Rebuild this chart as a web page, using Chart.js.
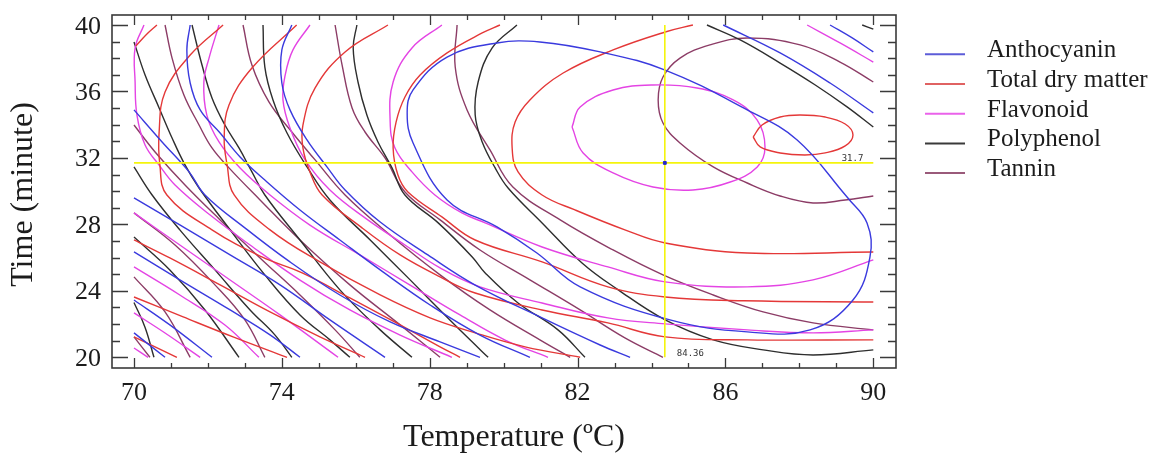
<!DOCTYPE html>
<html><head><meta charset="utf-8">
<script src="https://cdn.jsdelivr.net/npm/chart.js@4.4.1/dist/chart.umd.min.js"></script>
<style>html,body{margin:0;padding:0;background:#fff;overflow:hidden}canvas{display:block}</style>
</head><body>
<canvas id="c" width="1160" height="453"></canvas>
<script>
// ---- labels / ticks ----
const seriesNames = ['Anthocyanin', 'Total dry matter', 'Flavonoid', 'Polyphenol', 'Tannin'];
const seriesColors = ['#3a3ade', '#e43838', '#e444e4', '#2e2e2e', '#8c3c66'];
const legendColors = ['#5c5cd8', '#e06262', '#ea62ea', '#3a3a3a', '#9a5a7a'];
const xTicks = [70, 74, 78, 82, 86, 90];
const yTicks = [20, 24, 28, 32, 36, 40];
const xTitle = 'Temperature (ºC)';
const yTitle = 'Time (minute)';
const optimumX = 84.36, optimumY = 31.7;
const optimumXLabel = '84.36', optimumYLabel = '31.7';

// ---- contour lines: [temperature, time] ----
const anthocyanin = [
  [[89.29,29.65],[87.94,33.08],[86.59,34.89],[84.37,37.29],[82.61,38.38],[80.98,38.98],[79.82,38.92],[78.47,38.07],[77.55,36.09],[77.39,34.71],[77.55,32.9],[78.47,29.47],[79.82,27.85],[80.9,26.28],[82.07,24.24],[84.5,22.25],[86.59,21.53],[88.29,21.65],[89.45,23.45],[89.91,26.04],[89.83,28.09],[89.29,29.65]],
  [[85.94,40],[87.48,38.32],[88.83,36.51],[90,34.71]],
  [[88.83,40],[89.43,39.22],[90,38.38]],
  [[74.27,40],[74,38.5],[74,36.51],[74.22,34.89],[74.68,33.08],[75.22,31.46],[75.71,30.07],[76.66,28.14],[77.95,26.16],[79.23,24.35],[81.04,22.37],[82.61,20.74],[83.42,20]],
  [[71.52,40],[71.43,38.5],[71.52,36.51],[71.79,34.89],[72.33,33.5],[72.87,32.06],[73.54,30.67],[74.49,28.87],[75.57,27.06],[76.66,25.26],[78.01,23.15],[79.36,21.34],[80.71,20]],
  [[70,34.89],[70.76,32.96],[71.49,31.16],[71.92,29.77],[73,27.79],[74.22,25.74],[75.57,23.75],[76.93,22.13],[78.28,20.93],[79.36,20]],
  [[70,29.59],[71.24,27.97],[72.6,26.16],[73.95,24.36],[75.3,22.25],[76.79,20]],
  [[70,26.34],[71.24,24.66],[72.6,22.85],[73.68,21.35],[74.49,20]],
  [[70,23.45],[70.97,21.95],[72.11,20]],
  [[70,21.47],[70.84,20]]
];
const totalDryMatter = [
  [[86.75,33.26],[86.99,33.98],[87.48,34.46],[88.02,34.58],[88.7,34.46],[89.24,34.04],[89.45,33.38],[89.24,32.72],[88.7,32.3],[88.15,32.18],[87.48,32.3],[86.94,32.66],[86.75,33.26]],
  [[85.12,40],[84.37,39.58],[82.96,38.5],[81.61,37.11],[80.71,35.49],[80.31,34.16],[80.23,32.6],[80.39,31.16],[81.04,29.77],[81.93,28.87],[83.28,27.67],[84.37,26.88],[86.59,26.28],[90,26.34]],
  [[79.9,40],[79.42,39.52],[78.47,38.32],[77.74,36.99],[77.33,35.67],[77.09,34.16],[77.01,32.6],[77.14,30.97],[77.41,29.95],[78.33,28.45],[79.23,27.06],[81.04,25.74],[82.82,24.24],[84.37,23.63],[86.5,23.4],[90,23.33]],
  [[76.87,40],[75.71,38.38],[74.9,36.21],[74.57,33.98],[74.57,32.6],[74.76,31.16],[75.09,29.77],[76.17,27.79],[77.2,26.16],[78.28,24.84],[79.23,23.87],[81.04,22.85],[82.82,22.07],[84.37,21.23],[86.59,21.05],[90,21.05]],
  [[74.4,40],[73.19,37.41],[72.57,35.19],[72.44,33.2],[72.52,31.58],[72.71,29.77],[73.68,27.67],[75.03,25.74],[76.66,23.75],[78.01,22.37],[79.23,21.47],[80.58,20.63],[82.07,20]],
  [[72.41,40],[71.52,38.19],[70.84,35.97],[70.68,33.56],[70.7,31.58],[70.89,29.77],[72.11,27.67],[73.46,26.04],[74.55,25.08],[75.84,23.57],[77.2,21.95],[78.28,20.63],[78.82,20]],
  [[70.62,40],[70.35,39.46],[70.05,38.74]],
  [[70,27.06],[70.97,25.98],[72.33,24.36],[73.68,22.73],[75.03,21.23],[76.25,20]],
  [[70,23.63],[71.33,22.43],[72.68,21.23],[74.14,20]],
  [[70,21.23],[70.57,20.63],[71.16,20]]
];
const flavonoid = [
  [[81.85,33.86],[82.07,35.07],[82.96,36.09],[84.04,36.39],[85.23,36.21],[86.21,35.49],[86.86,34.28],[87.07,32.66],[86.86,31.46],[86.13,30.55],[85.12,30.07],[84.04,30.25],[82.96,31.1],[82.15,32.3],[81.85,33.86]],
  [[78.33,40],[77.52,38.62],[77.01,36.57],[76.93,34.16],[77.06,32.6],[77.52,31.16],[78.14,29.77],[78.87,28.69],[79.5,28.09],[81.04,26.64],[82.82,25.44],[84.37,24.54],[86.59,24.24],[88.37,24.66],[90,25.86]],
  [[88.21,40],[89.1,38.92],[90,37.77]],
  [[74.76,40],[74.3,38.5],[74.09,36.99],[74.03,35.49],[74.22,33.8],[74.63,31.88],[75.3,30.07],[76.25,28.39],[77.33,26.76],[78.28,25.38],[79.36,24.24],[81.04,23.27],[82.82,22.37],[84.37,22.01],[86.59,21.65],[88.37,21.47],[90,21.65]],
  [[72.3,40],[72.03,38.01],[71.89,36.57],[71.97,34.58],[72.3,32.96],[72.87,31.39],[73.68,29.77],[74.76,27.96],[76.11,26.16],[77.47,24.35],[78.82,22.55],[80.04,21.04],[81.2,20]],
  [[70.27,40],[70.03,38.62],[70.03,36.57],[70.08,34.58],[70.3,32.78],[70.68,31.57],[71.11,30.37],[72.06,28.56],[73.14,26.76],[74.49,24.65],[75.84,22.85],[77.2,21.34],[78.6,20]],
  [[70,28.69],[71.24,26.76],[72.6,24.65],[73.95,22.55],[75.52,20]],
  [[70,25.44],[71.24,23.75],[72.46,21.94],[73.38,20]],
  [[70,22.67],[70.84,21.46],[71.79,20]],
  [[70,20.56],[70.38,20]]
];
const polyphenol = [
  [[80.36,40],[79.69,38.62],[79.31,36.57],[79.23,34.58],[79.42,32.96],[79.77,31.4],[80.12,30.19],[81.04,28.09],[82.12,25.68],[83.1,24.06],[84.37,22.25],[85.67,21.05],[87.02,20.45],[88.37,20.14],[90,20.45]],
  [[85.5,40],[86.4,39.1],[87.48,37.71],[88.43,36.39],[89.29,35.07],[90,33.86]],
  [[89.7,40],[90,39.75]],
  [[76.03,40],[75.93,38.62],[76.06,36.57],[76.3,34.58],[76.6,32.96],[76.98,31.4],[77.33,29.77],[78.23,28.09],[79.15,26.04],[79.5,25.08],[80.39,23.27],[81.47,21.65],[82.2,20]],
  [[73.49,40],[73.54,37.47],[73.76,35.49],[74.14,33.5],[74.68,31.46],[75.3,29.47],[76.39,27.06],[77.47,24.66],[78.41,22.55],[79.09,21.05],[79.58,20]],
  [[71.57,40],[71.84,37.59],[72.11,35.61],[72.46,33.98],[72.84,32.6],[73.19,31.16],[73.54,29.77],[74.49,27.06],[75.57,24.06],[76.66,21.65],[77.52,20]],
  [[70,38.98],[70.3,36.99],[70.68,35.01],[71.03,33.2],[71.38,31.58],[71.76,30.19],[72.6,27.67],[73.54,24.96],[74.49,22.55],[75.3,21.05],[75.84,20]],
  [[70,31.46],[70.49,29.77],[71.24,27.67],[72.19,25.26],[73.14,22.85],[73.81,21.35],[74.27,20]],
  [[70,27.24],[70.97,25.26],[71.92,22.85],[72.84,20]],
  [[70,23.3],[70.3,21.8],[70.54,20]]
];
const tannin = [
  [[90,36.57],[89.1,37.77],[88.02,38.8],[86.59,39.22],[85.58,38.8],[84.77,38.01],[84.31,36.87],[84.18,35.49],[84.31,34.1],[84.77,32.9],[85.67,31.46],[86.59,30.49],[87.48,29.71],[88.37,29.29],[89.24,29.47],[90,29.71]],
  [[78.74,40],[78.69,37.47],[79.01,34.89],[79.63,32.48],[80.25,30.25],[81.53,28.27],[82.96,26.46],[84.31,24.96],[85.67,23.75],[87.02,22.73],[88.37,22.07],[90,21.65]],
  [[75.44,40],[75.63,37.59],[75.9,35.01],[76.25,33.56],[76.79,32],[77.33,29.95],[78.28,28.27],[79.36,26.46],[80.71,24.66],[82.07,22.85],[83.28,21.17],[84.31,20]],
  [[72.95,40],[73.19,37.59],[73.65,35.37],[74.27,33.56],[74.9,31.88],[75.71,29.77],[76.93,27.36],[78.28,24.96],[79.63,22.85],[80.98,21.05],[81.8,20]],
  [[70.84,40],[71.03,38.01],[71.35,35.79],[71.76,33.98],[72.11,32.6],[72.57,31.4],[73.41,29.47],[74.49,27.06],[75.84,24.36],[77.2,21.95],[78.28,20]],
  [[70,33.98],[70.57,32.36],[71.38,30.37],[72.33,28.27],[73.41,25.98],[74.49,23.75],[75.44,21.65],[76.11,20]],
  [[70,28.69],[71.11,26.76],[72.19,24.36],[73,22.25],[73.54,20]],
  [[70,24.84],[70.84,22.73],[71.52,20]],
  [[70,21.23],[70.43,20]]
];

const allSeries = [anthocyanin, totalDryMatter, flavonoid, polyphenol, tannin];

// ---- build datasets ----
const datasets = [];
allSeries.forEach((curves, si) => {
  curves.forEach((curve, ci) => {
    datasets.push({
      label: seriesNames[si] + ' ' + (ci + 1),
      data: curve.map(p => ({x: p[0], y: p[1]})),
      showLine: true,
      borderColor: seriesColors[si],
      borderWidth: 1.4,
      pointRadius: 0,
      tension: 0.4,
      fill: false,
      order: 2
    });
  });
});
datasets.push({
  label: 'opt-time', data: [{x: 70, y: optimumY}, {x: 90, y: optimumY}],
  showLine: true, borderColor: '#f4f40c', borderWidth: 1.6, pointRadius: 0, tension: 0, order: 1
});
datasets.push({
  label: 'opt-temp', data: [{x: optimumX, y: 20}, {x: optimumX, y: 40}],
  showLine: true, borderColor: '#f4f40c', borderWidth: 1.6, pointRadius: 0, tension: 0, order: 1
});
datasets.push({
  label: 'optimum', data: [{x: optimumX, y: optimumY}],
  showLine: false, pointStyle: 'rect', pointRadius: 2, borderWidth: 1,
  backgroundColor: '#2626c8', borderColor: '#2626c8', order: 0
});

const decor = {
  id: 'decor',
  afterDatasetsDraw(chart) {
    const ctx = chart.ctx, a = chart.chartArea, xs = chart.scales.x, ys = chart.scales.y;
    ctx.save();
    // frame
    ctx.strokeStyle = '#3a3a3a';
    ctx.lineWidth = 1.6;
    ctx.strokeRect(a.left, a.top, a.right - a.left, a.bottom - a.top);
    // ticks
    ctx.lineWidth = 1.3;
    ctx.beginPath();
    for (let v = xTicks[0]; v <= xTicks[xTicks.length - 1]; v++) {
      const p = Math.round(xs.getPixelForValue(v)) + 0.5;
      const L = xTicks.includes(v) ? 10 : 5;
      ctx.moveTo(p, a.bottom); ctx.lineTo(p, a.bottom - L);
      ctx.moveTo(p, a.top); ctx.lineTo(p, a.top + L);
    }
    for (let v = yTicks[0]; v <= yTicks[yTicks.length - 1]; v++) {
      const p = Math.round(ys.getPixelForValue(v)) + 0.5;
      const L = yTicks.includes(v) ? 16 : 8;
      ctx.moveTo(a.left, p); ctx.lineTo(a.left + L, p);
      ctx.moveTo(a.right, p); ctx.lineTo(a.right - L, p);
    }
    ctx.stroke();
    // tick labels
    ctx.fillStyle = '#1c1c1c';
    ctx.font = '26px "Liberation Serif", "Times New Roman", serif';
    ctx.textBaseline = 'alphabetic';
    ctx.textAlign = 'center';
    xTicks.forEach(v => ctx.fillText(String(v), xs.getPixelForValue(v), a.bottom + 32));
    ctx.textAlign = 'right';
    yTicks.forEach(v => ctx.fillText(String(v), a.left - 11, ys.getPixelForValue(v) + 8.5));
    // axis titles
    ctx.font = '32px "Liberation Serif", "Times New Roman", serif';
    ctx.textAlign = 'center';
    ctx.fillText(xTitle, (a.left + a.right) / 2 + 10, a.bottom + 78);
    ctx.save();
    ctx.translate(32, (a.top + a.bottom) / 2 + 3);
    ctx.rotate(-Math.PI / 2);
    ctx.fillText(yTitle, 0, 0);
    ctx.restore();
    // optimum value labels
    ctx.font = '9px "DejaVu Sans Mono", monospace';
    ctx.fillStyle = '#333';
    ctx.textAlign = 'right';
    ctx.fillText(optimumYLabel, xs.getPixelForValue(90) - 10, ys.getPixelForValue(optimumY) - 2);
    ctx.textAlign = 'left';
    ctx.fillText(optimumXLabel, xs.getPixelForValue(optimumX) + 12, ys.getPixelForValue(20) - 1);
    // legend
    ctx.font = '25px "Liberation Serif", "Times New Roman", serif';
    ctx.fillStyle = '#1c1c1c';
    ctx.textAlign = 'left';
    seriesNames.forEach((n, i) => {
      const y = a.top + 39.3 + i * 29.7;
      ctx.strokeStyle = legendColors[i];
      ctx.lineWidth = 2;
      ctx.beginPath();
      ctx.moveTo(a.right + 29, y); ctx.lineTo(a.right + 69, y);
      ctx.stroke();
      ctx.fillText(n, a.right + 91, y + 3);
    });
    ctx.restore();
  }
};

new Chart(document.getElementById('c'), {
  type: 'scatter',
  data: {datasets},
  options: {
    responsive: false,
    devicePixelRatio: 1,
    animation: false,
    events: [],
    layout: {padding: {left: 112, top: 15, right: 264, bottom: 85}},
    scales: {
      x: {type: 'linear', min: 69.405, max: 90.614, display: false},
      y: {type: 'linear', min: 19.356, max: 40.602, display: false}
    },
    plugins: {legend: {display: false}, tooltip: {enabled: false}}
  },
  plugins: [decor]
});
</script>
</body></html>
